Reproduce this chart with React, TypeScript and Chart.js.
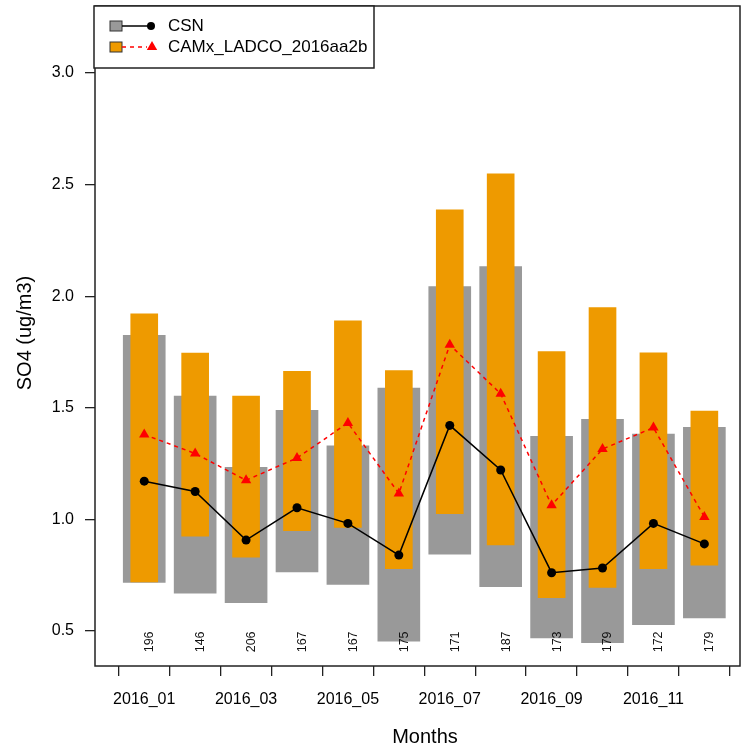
import React, { useEffect, useRef } from 'react';
import { Chart, registerables } from 'chart.js';

Chart.register(...registerables);

const months = ['2016_01', '2016_02', '2016_03', '2016_04', '2016_05', '2016_06', '2016_07', '2016_08', '2016_09', '2016_10', '2016_11', '2016_12'];
const monthIndex = [1, 2, 3, 4, 5, 6, 7, 8, 9, 10, 11, 12];
const csnHigh = [1.824, 1.552, 1.233, 1.488, 1.329, 1.588, 2.043, 2.132, 1.372, 1.448, 1.382, 1.412];
const csnLow = [0.718, 0.669, 0.627, 0.764, 0.709, 0.454, 0.844, 0.698, 0.469, 0.448, 0.528, 0.558];
const camxHigh = [1.921, 1.745, 1.552, 1.663, 1.889, 1.667, 2.387, 2.548, 1.752, 1.949, 1.746, 1.485];
const camxLow = [0.720, 0.925, 0.831, 0.949, 0.964, 0.779, 1.026, 0.886, 0.649, 0.695, 0.779, 0.795];
const csnMean = [1.171, 1.125, 0.907, 1.052, 0.982, 0.840, 1.421, 1.221, 0.761, 0.782, 0.982, 0.890];
const camxMean = [1.380, 1.295, 1.175, 1.275, 1.432, 1.116, 1.782, 1.563, 1.063, 1.315, 1.411, 1.011];
const counts = ['196', '146', '206', '167', '167', '175', '171', '187', '173', '179', '172', '179'];
const yTicks = [0.5, 1.0, 1.5, 2.0, 2.5, 3.0];
const seriesNames = ['CSN', 'CAMx_LADCO_2016aa2b'];
const COUNT_Y = 0.451;

const FONT = '"Liberation Sans", Arial, Helvetica, sans-serif';
const GRAY = '#999999';
const ORANGE = '#EE9A00';

export default function App() {
  const ref = useRef<HTMLCanvasElement | null>(null);

  useEffect(() => {
    document.body.style.margin = '0';
    const canvas = ref.current!;

    const decor = {
      id: 'decor',
      afterDatasetsDraw(chart: any) {
        const ctx = chart.ctx;
        const xs = chart.scales.x;
        const ys = chart.scales.y;
        ctx.save();
        ctx.fillStyle = '#111';
        ctx.font = `12.5px ${FONT}`;
        ctx.textAlign = 'center';
        ctx.textBaseline = 'middle';
        monthIndex.forEach((m, i) => {
          const px = xs.getPixelForValue(m) + 5.5;
          const py = ys.getPixelForValue(COUNT_Y);
          ctx.save();
          ctx.translate(px, py);
          ctx.rotate(-Math.PI / 2);
          ctx.fillText(counts[i], 0, 0);
          ctx.restore();
        });
        ctx.restore();
      },
      afterDraw(chart: any) {
        const ctx = chart.ctx;
        const a = chart.chartArea;
        ctx.save();
        // plot box
        ctx.strokeStyle = '#222';
        ctx.lineWidth = 1.5;
        ctx.strokeRect(a.left, a.top, a.right - a.left, a.bottom - a.top);

        // axis titles
        ctx.fillStyle = '#000';
        ctx.font = `20px ${FONT}`;
        ctx.textAlign = 'center';
        ctx.textBaseline = 'middle';
        ctx.fillText('Months', 425, 737);
        ctx.save();
        ctx.translate(25.5, 333);
        ctx.rotate(-Math.PI / 2);
        ctx.fillText('SO4 (ug/m3)', 0, 0);
        ctx.restore();

        // legend
        const lx = a.left - 1, ly = a.top, lw = 280, lh = 62;
        ctx.fillStyle = '#fff';
        ctx.fillRect(lx, ly, lw, lh);
        ctx.strokeStyle = '#222';
        ctx.lineWidth = 1.5;
        ctx.strokeRect(lx, ly, lw, lh);

        const rows = [26, 47];
        // row 1
        ctx.lineWidth = 1;
        ctx.fillStyle = GRAY;
        ctx.fillRect(110, rows[0] - 5, 12, 10);
        ctx.strokeStyle = '#333';
        ctx.strokeRect(110, rows[0] - 5, 12, 10);
        ctx.strokeStyle = '#000';
        ctx.lineWidth = 1.5;
        ctx.beginPath();
        ctx.moveTo(122, rows[0]);
        ctx.lineTo(151, rows[0]);
        ctx.stroke();
        ctx.fillStyle = '#000';
        ctx.beginPath();
        ctx.arc(151, rows[0], 4, 0, Math.PI * 2);
        ctx.fill();
        // row 2
        ctx.lineWidth = 1;
        ctx.fillStyle = ORANGE;
        ctx.fillRect(110, rows[1] - 5, 12, 10);
        ctx.strokeStyle = '#333';
        ctx.strokeRect(110, rows[1] - 5, 12, 10);
        ctx.strokeStyle = '#ff0000';
        ctx.lineWidth = 1.5;
        ctx.setLineDash([4, 4]);
        ctx.beginPath();
        ctx.moveTo(122, rows[1]);
        ctx.lineTo(147, rows[1]);
        ctx.stroke();
        ctx.setLineDash([]);
        ctx.fillStyle = '#ff0000';
        ctx.beginPath();
        const tr = 6;
        ctx.moveTo(152, rows[1] - tr);
        ctx.lineTo(152 + tr * 0.866, rows[1] + tr * 0.5);
        ctx.lineTo(152 - tr * 0.866, rows[1] + tr * 0.5);
        ctx.closePath();
        ctx.fill();

        ctx.fillStyle = '#000';
        ctx.font = `17px ${FONT}`;
        ctx.textAlign = 'left';
        ctx.textBaseline = 'middle';
        ctx.fillText(seriesNames[0], 168, rows[0]);
        ctx.fillText(seriesNames[1], 168, rows[1]);
        ctx.restore();
      },
    };

    const chart = new Chart(canvas, {
      type: 'bar',
      data: {
        datasets: [
          {
            type: 'line',
            label: seriesNames[1],
            data: monthIndex.map((m, i) => ({ x: m, y: camxMean[i] })),
            borderColor: '#ff0000',
            borderWidth: 1.5,
            borderDash: [4, 4],
            pointStyle: 'triangle',
            pointRadius: 6,
            pointBackgroundColor: '#ff0000',
            pointBorderColor: '#ff0000',
            pointBorderWidth: 0,
            order: 0,
          } as any,
          {
            type: 'line',
            label: seriesNames[0],
            data: monthIndex.map((m, i) => ({ x: m, y: csnMean[i] })),
            borderColor: '#000',
            borderWidth: 1.5,
            pointStyle: 'circle',
            pointRadius: 4.5,
            pointBackgroundColor: '#000',
            pointBorderColor: '#000',
            pointBorderWidth: 0,
            order: 1,
          } as any,
          {
            type: 'bar',
            label: seriesNames[1] + ' range',
            data: monthIndex.map((m, i) => ({ x: m, y: [camxLow[i], camxHigh[i]] })),
            backgroundColor: ORANGE,
            borderWidth: 0,
            barThickness: 27,
            grouped: false,
            order: 2,
          } as any,
          {
            type: 'bar',
            label: seriesNames[0] + ' range',
            data: monthIndex.map((m, i) => ({ x: m, y: [csnLow[i], csnHigh[i]] })),
            backgroundColor: GRAY,
            borderWidth: 0,
            barThickness: 42,
            grouped: false,
            order: 3,
          } as any,
        ],
      },
      options: {
        responsive: false,
        devicePixelRatio: 1,
        animation: false,
        layout: { padding: { left: 0, top: 5, right: 5, bottom: 0 } },
        plugins: {
          legend: { display: false },
          tooltip: { enabled: false },
          title: { display: false },
        },
        scales: {
          x: {
            type: 'linear',
            min: 0.033,
            max: 12.7,
            offset: false,
            afterBuildTicks: (s: any) => {
              s.ticks = monthIndex.map((v) => ({ value: v }));
            },
            afterFit: (s: any) => {
              s.height = 85;
              s.paddingLeft = 0;
              s.paddingRight = 0;
            },
            ticks: {
              autoSkip: false,
              maxRotation: 0,
              minRotation: 0,
              padding: 14,
              color: '#000',
              font: { family: FONT, size: 16 },
              callback: (v: any) => {
                const n = Number(v);
                return n % 2 === 1 ? months[n - 1] : '';
              },
            },
            grid: {
              drawOnChartArea: false,
              drawTicks: true,
              tickLength: 10,
              tickColor: '#222',
              lineWidth: 1.3,
            },
            border: { display: false },
          },
          y: {
            type: 'linear',
            min: 0.343,
            max: 3.3,
            afterBuildTicks: (s: any) => {
              s.ticks = yTicks.map((v) => ({ value: v }));
            },
            afterFit: (s: any) => {
              s.width = 95;
              s.paddingTop = 0;
              s.paddingBottom = 0;
            },
            ticks: {
              padding: 11,
              color: '#000',
              font: { family: FONT, size: 16 },
              callback: (v: any) => Number(v).toFixed(1),
            },
            grid: {
              drawOnChartArea: false,
              drawTicks: true,
              tickLength: 10,
              tickColor: '#222',
              lineWidth: 1.3,
            },
            border: { display: false },
          },
        },
      } as any,
      plugins: [decor],
    });

    return () => chart.destroy();
  }, []);

  return <canvas ref={ref} width={746} height={751} style={{ display: 'block', width: 746, height: 751 }} />;
}
